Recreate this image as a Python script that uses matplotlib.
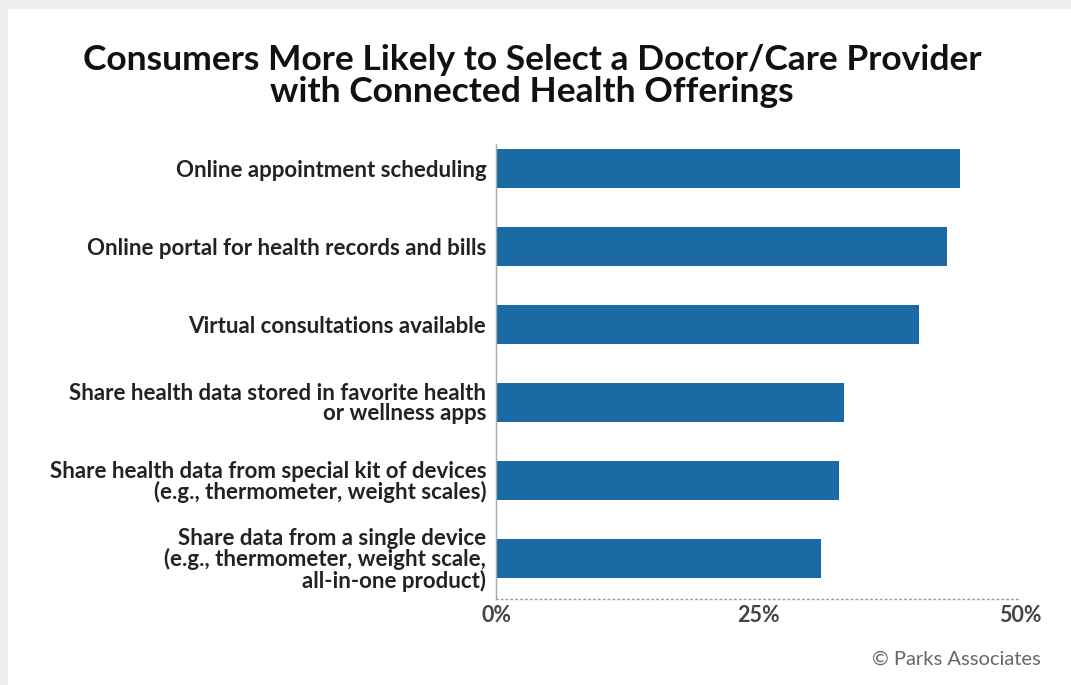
import matplotlib.pyplot as plt
from matplotlib.patches import Rectangle

# data
labels = [
    "Online appointment scheduling",
    "Online portal for health records and bills",
    "Virtual consultations available",
    "Share health data stored in favorite health\nor wellness apps",
    "Share health data from special kit of devices\n(e.g., thermometer, weight scales)",
    "Share data from a single device\n(e.g., thermometer, weight scale,\nall-in-one product)",
]
values = [44.3, 43.0, 40.4, 33.2, 32.7, 31.0]
xticks = [0, 25, 50]
xticklabels = ["0%", "25%", "50%"]

W, H = 1071, 685
fig = plt.figure(figsize=(W / 100, H / 100), dpi=100)
fig.patch.set_facecolor("#eeeeee")
# white card
fig.patches.append(Rectangle((8 / W, 0), 1, 1 - 9 / H, transform=fig.transFigure,
                             facecolor="white", edgecolor="none", zorder=-5))

ax = fig.add_axes([496 / W, 1 - 599 / H, (1020 - 496) / W, (599 - 144) / H])
ax.set_facecolor("none")
ax.set_zorder(2)

ypos = list(range(len(labels)))
ax.barh(ypos, values, height=0.5, color="#1b69a5")
ax.set_ylim(5.52, -0.31)
ax.set_xlim(0, 50)

ax.set_yticks(ypos)
ax.set_yticklabels(labels, fontsize=16, fontweight="bold", color="#222222",
                   fontfamily="Lato", linespacing=0.95)
ax.set_xticks(xticks)
ax.set_xticklabels(xticklabels, fontsize=15.5, fontweight="bold", color="#444444",
                   fontfamily="Lato")
ax.tick_params(axis="both", length=0)
ax.tick_params(axis="y", pad=7)
ax.tick_params(axis="x", pad=4)

for s in ["top", "right"]:
    ax.spines[s].set_visible(False)
ax.spines["left"].set_color("#aaaaaa")
ax.spines["left"].set_linewidth(1)
ax.spines["bottom"].set_color("#999999")
ax.spines["bottom"].set_linestyle((0, (1, 2.5)))
ax.spines["bottom"].set_linewidth(1)

fig.text(532 / W, 1 - 76 / H,
         "Consumers More Likely to Select a Doctor/Care Provider\nwith Connected Health Offerings",
         ha="center", va="center", fontsize=25.5, fontweight="bold", color="#111111",
         fontfamily="Lato", linespacing=1.0)

fig.text(1041 / W, 1 - 659 / H, "\u00a9 Parks Associates", ha="right", va="center",
         fontsize=14.5, color="#666666", fontfamily="Lato")

fig.savefig("out.png", dpi=100, facecolor=fig.get_facecolor())
